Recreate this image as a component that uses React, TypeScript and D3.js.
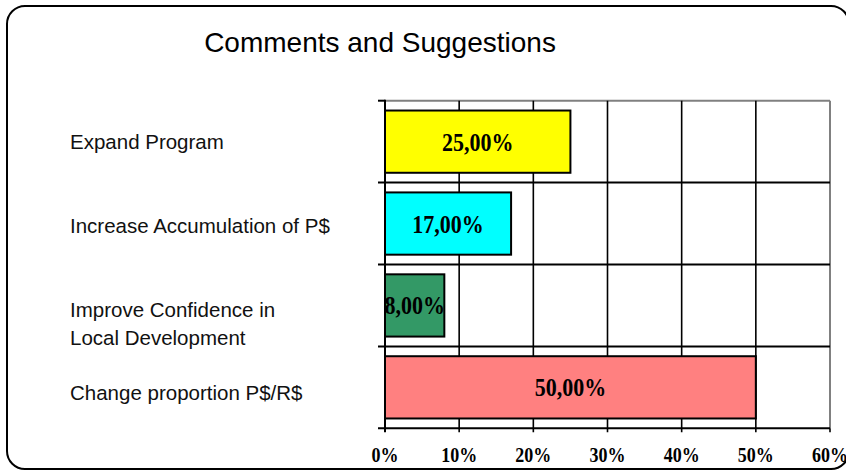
import React from "react";
import * as d3 from "d3";

const title = "Comments and Suggestions";
const categories = [
  "Expand Program",
  "Increase Accumulation of P$",
  "Improve Confidence in\nLocal Development",
  "Change proportion P$/R$",
];
const values = [0.25, 0.17, 0.08, 0.5];
const barColors = ["#FFFF00", "#00FFFF", "#339966", "#FF8080"];
const xTicks = [0, 0.1, 0.2, 0.3, 0.4, 0.5, 0.6];

const W = 846;
const H = 470;
const plot = { left: 385, right: 830, top: 100.7, bottom: 428.3 };

const locale = d3.formatLocale({
  decimal: ",",
  thousands: ".",
  grouping: [3],
  currency: ["", ""],
});
const fmtValue = locale.format(".2%");
const fmtTick = d3.format(".0%");

export default function App() {
  const x = d3.scaleLinear().domain([0, 0.6]).range([plot.left, plot.right]);
  const y = d3
    .scaleBand<string>()
    .domain(categories)
    .range([plot.top, plot.bottom])
    .paddingInner(0.24)
    .paddingOuter(0.12);
  const step = y.step();
  const boundaries = categories.map((c) => (y(c) as number) - step * 0.12);
  const yl = d3.scaleBand<string>().domain(categories).range([100, 435]);

  const serif = "'Liberation Serif', 'Times New Roman', serif";
  const sans = "'Liberation Sans', Arial, sans-serif";

  return (
    <svg
      width={W}
      height={H}
      style={{ position: "absolute", left: 0, top: 0, background: "#fff" }}
    >
      <rect x={0} y={0} width={W} height={H} fill="#fff" />
      <rect
        x={7}
        y={6}
        width={842}
        height={463}
        rx={18}
        ry={18}
        fill="none"
        stroke="#000"
        strokeWidth={2}
      />
      <text
        x={380}
        y={52}
        textAnchor="middle"
        fontFamily={sans}
        fontSize={28}
        fill="#000"
      >
        {title}
      </text>

      {/* top & right border of plot (gray) */}
      <line x1={plot.left} x2={plot.right} y1={plot.top} y2={plot.top} stroke="#808080" strokeWidth={2} />
      <line x1={plot.right} x2={plot.right} y1={plot.top} y2={plot.bottom} stroke="#808080" strokeWidth={2} />

      {/* vertical gridlines */}
      {xTicks.slice(1, -1).map((t) => (
        <line key={"vg" + t} x1={x(t)} x2={x(t)} y1={plot.top} y2={plot.bottom + 4} stroke="#000" strokeWidth={1.6} />
      ))}
      <line x1={x(0.6)} x2={x(0.6)} y1={plot.bottom} y2={plot.bottom + 4} stroke="#000" strokeWidth={1.6} />

      {/* horizontal category lines */}
      {boundaries.map((b, i) =>
        i === 0 ? (
          <line key={"hb" + i} x1={plot.left - 7} x2={plot.left} y1={b} y2={b} stroke="#000" strokeWidth={2} />
        ) : (
          <line key={"hb" + i} x1={plot.left - 7} x2={plot.right} y1={b} y2={b} stroke="#000" strokeWidth={2} />
        )
      )}

      {/* bars */}
      {categories.map((c, i) => (
        <rect
          key={"bar" + i}
          x={x(0)}
          y={y(c)}
          width={x(values[i]) - x(0)}
          height={y.bandwidth()}
          fill={barColors[i]}
          stroke="#000"
          strokeWidth={2}
        />
      ))}

      {/* axes */}
      <line x1={plot.left - 7} x2={plot.right} y1={plot.bottom} y2={plot.bottom} stroke="#000" strokeWidth={2} />
      <line x1={plot.left} x2={plot.left} y1={plot.top - 1} y2={plot.bottom + 4} stroke="#000" strokeWidth={2} />

      {/* value labels */}
      {categories.map((c, i) => {
        const cx = (x(0) + x(values[i])) / 2;
        const cy = (y(c) as number) + y.bandwidth() / 2 + 9;
        return (
          <text
            key={"vl" + i}
            transform={`translate(${cx},${cy}) scale(1,1.12)`}
            textAnchor="middle"
            fontFamily={serif}
            fontWeight="bold"
            fontSize={22}
            fill="#000"
          >
            {fmtValue(values[i])}
          </text>
        );
      })}

      {/* x tick labels */}
      {xTicks.map((t) => (
        <text
          key={"xt" + t}
          transform={`translate(${x(t)},462) scale(1,1.2)`}
          textAnchor="middle"
          fontFamily={serif}
          fontWeight="bold"
          fontSize={18}
          fill="#000"
        >
          {fmtTick(t)}
        </text>
      ))}

      {/* category labels */}
      {categories.map((c) => {
        const lines = c.split("\n");
        const cy = (yl(c) as number) + yl.bandwidth() / 2;
        const start = lines.length > 1 ? cy + 8 : cy + 7;
        return (
          <text key={"cl" + c} x={70} y={start} fontFamily={sans} fontSize={20.5} fill="#111">
            {lines.map((ln, j) => (
              <tspan key={j} x={70} dy={j === 0 ? 0 : 28}>
                {ln}
              </tspan>
            ))}
          </text>
        );
      })}
    </svg>
  );
}
